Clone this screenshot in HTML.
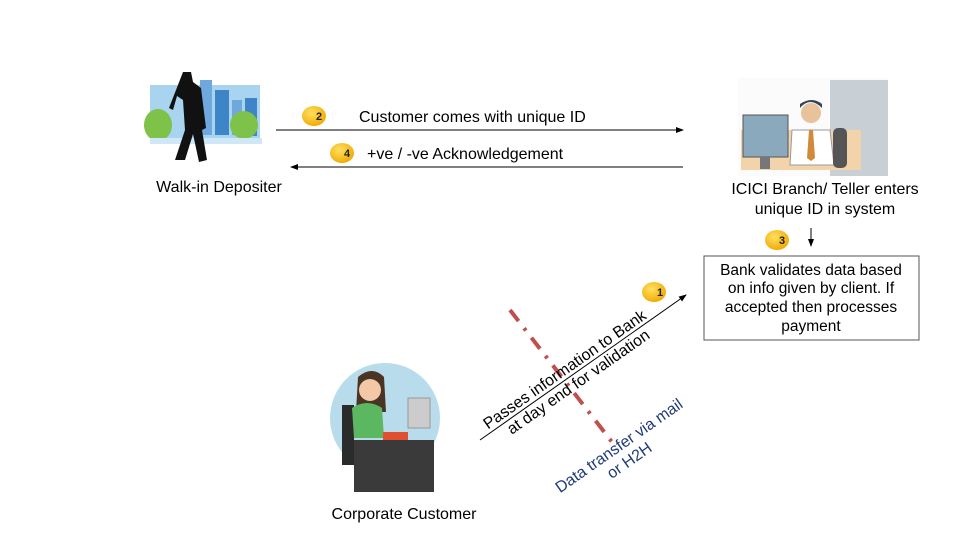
<!DOCTYPE html>
<html><head><meta charset="utf-8"><style>
html,body{margin:0;padding:0;background:#fff;}
svg{display:block;font-family:"Liberation Sans",Arial,sans-serif;}
</style></head><body>
<svg width="960" height="540" viewBox="0 0 960 540" xmlns="http://www.w3.org/2000/svg">
<defs>
<radialGradient id="bg" cx="0.4" cy="0.35" r="0.7"><stop offset="0" stop-color="#ffe060"/><stop offset="1" stop-color="#f0a800"/></radialGradient>
<marker id="ah" markerWidth="8" markerHeight="6" refX="7" refY="3" orient="auto"><path d="M0,0 L8,3 L0,6 z" fill="#000"/></marker>
</defs>
<!-- walk-in illustration -->
<g>
<rect x="150" y="85" width="110" height="55" fill="#a9d4ef"/>
<rect x="200" y="80" width="12" height="55" fill="#6fa8dc"/>
<rect x="215" y="90" width="14" height="45" fill="#3d85c6"/>
<rect x="232" y="100" width="10" height="35" fill="#6fa8dc"/>
<rect x="245" y="98" width="12" height="38" fill="#3d85c6"/>
<ellipse cx="158" cy="125" rx="14" ry="16" fill="#7ec24a"/>
<ellipse cx="244" cy="125" rx="14" ry="14" fill="#7ec24a"/>
<rect x="150" y="138" width="112" height="6" fill="#cfe7f7"/>
<path d="M183,72 l8,0 l2,10 l8,6 l5,40 l-4,2 l5,30 l-8,2 l-6,-28 l-8,26 l-10,0 l10,-30 l-2,-30 l-6,-4 l-4,14 l-4,-2 z" fill="#111"/>
</g>
<!-- teller illustration -->
<g>
<rect x="738" y="78" width="150" height="98" fill="#fbfbfb"/>
<rect x="830" y="80" width="58" height="96" fill="#c8d0d6"/>
<rect x="741" y="130" width="120" height="40" fill="#f3d3aa"/>
<rect x="743" y="115" width="45" height="42" fill="#8aa9bd" stroke="#555"/>
<rect x="760" y="157" width="10" height="12" fill="#777"/>
<path d="M792,130 l38,0 l4,35 l-44,0 z" fill="#fff" stroke="#999"/>
<circle cx="811" cy="113" r="10" fill="#e8c29a"/>
<path d="M800,108 q10,-12 22,0 l0,-4 q-10,-8 -22,0z" fill="#345"/>
<path d="M809,130 l4,0 l2,28 l-4,3 l-4,-3z" fill="#d08a3a"/>
<rect x="833" y="128" width="14" height="40" fill="#555" rx="5"/>
</g>
<!-- corporate customer illustration -->
<g>
<circle cx="385" cy="418" r="55" fill="#b8dcec"/>
<rect x="342" y="405" width="12" height="60" fill="#2b2b2b"/>
<path d="M358,377 q14,-12 26,0 l2,35 l-30,0 z" fill="#4a3426"/>
<circle cx="370" cy="390" r="11" fill="#f2c8a8"/>
<path d="M352,408 q15,-10 30,0 l2,30 l-30,0 z" fill="#5cb860"/>
<rect x="408" y="398" width="22" height="30" fill="#ccc" stroke="#999"/>
<rect x="354" y="440" width="80" height="52" fill="#3a3a3a"/>
<rect x="383" y="432" width="25" height="8" fill="#e05030"/>
</g>
<!-- labels -->
<g font-size="16" text-anchor="middle" fill="#000">
<text x="219" y="192">Walk-in Depositer</text>
<text x="825" y="194">ICICI Branch/ Teller enters</text>
<text x="825" y="214">unique ID in system</text>
<text x="404" y="519">Corporate Customer</text>
</g>
<!-- arrows -->
<line x1="276" y1="130" x2="683" y2="130" stroke="#000" stroke-width="1" marker-end="url(#ah)"/>
<line x1="683" y1="167" x2="291" y2="167" stroke="#000" stroke-width="1" marker-end="url(#ah)"/>
<line x1="811" y1="228" x2="811" y2="246" stroke="#000" stroke-width="1" marker-end="url(#ah)"/>
<line x1="480" y1="440" x2="686" y2="295" stroke="#000" stroke-width="1" marker-end="url(#ah)"/>
<text x="359" y="122" font-size="16" fill="#000">Customer comes with unique ID</text>
<text x="367" y="159" font-size="16" fill="#000">+ve / -ve Acknowledgement</text>
<!-- box -->
<rect x="704" y="256" width="215" height="84" fill="#fff" stroke="#555" stroke-width="1"/>
<g font-size="15.5" text-anchor="middle" fill="#000">
<text x="811" y="275">Bank validates data based</text>
<text x="811" y="293">on info given by client. If</text>
<text x="811" y="312">accepted then processes</text>
<text x="811" y="331">payment</text>
</g>
<!-- dashed red -->
<line x1="510" y1="310" x2="612" y2="442" stroke="#c0504d" stroke-width="4" stroke-dasharray="14,9,3,9"/>
<!-- rotated texts -->
<g transform="translate(570,377) rotate(-35)" font-size="16" text-anchor="middle" fill="#000">
<text x="0" y="-4">Passes information to Bank</text>
<text x="4" y="14">at day end for validation</text>
</g>
<g transform="translate(622,450) rotate(-35)" font-size="16" text-anchor="middle" fill="#1f3a7a">
<text x="0" y="0">Data transfer via mail</text>
<text x="0" y="18">or H2H</text>
</g>
<!-- badges -->
<g font-size="11" font-weight="bold" text-anchor="middle" fill="#222">
<ellipse cx="314" cy="116" rx="12" ry="10" fill="url(#bg)"/><text x="319" y="120">2</text>
<ellipse cx="342" cy="153" rx="12" ry="10" fill="url(#bg)"/><text x="347" y="157">4</text>
<ellipse cx="777" cy="240" rx="12" ry="10" fill="url(#bg)"/><text x="782" y="244">3</text>
<ellipse cx="654" cy="292" rx="12" ry="10" fill="url(#bg)"/><text x="660" y="296">1</text>
</g>
</svg>
</body></html>
